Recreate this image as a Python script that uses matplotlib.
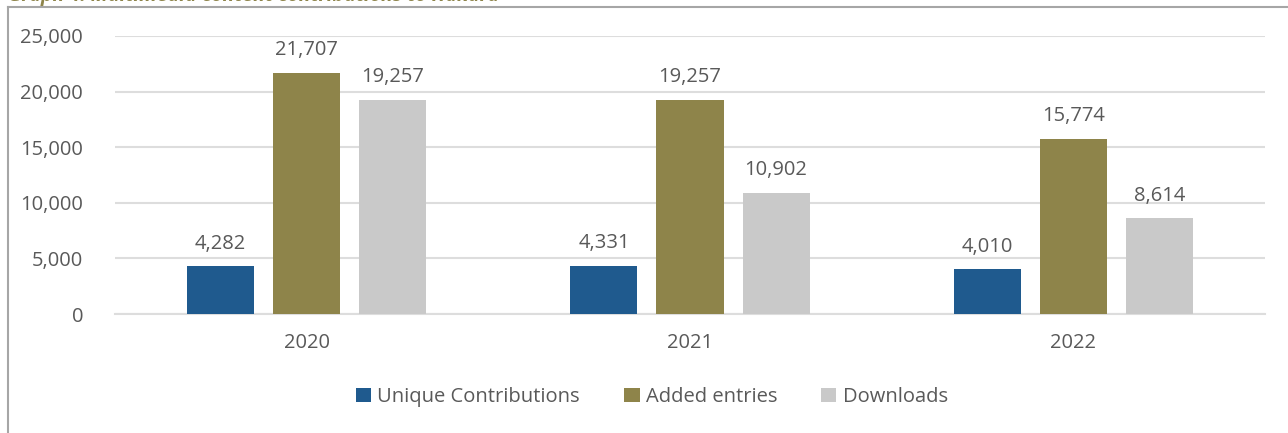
import matplotlib.pyplot as plt
import numpy as np

years = ['2020', '2021', '2022']
unique_contrib = [4282, 4331, 4010]
added_entries = [21707, 19257, 15774]
downloads = [19257, 10902, 8614]

series_names = ['Unique Contributions', 'Added entries', 'Downloads']
colors = ['#1F5A8E', '#8E844A', '#C9C9C9']
yticks = [0, 5000, 10000, 15000, 20000, 25000]

plt.rcParams['font.family'] = ['Open Sans', 'DejaVu Sans']
text_color = '#595959'
fs = 14.5

fig = plt.figure(figsize=(12.88, 4.33), dpi=100)
ax = fig.add_axes([115 / 1288, 1 - 314 / 433, 1150 / 1288, 278 / 433])

x = np.arange(len(years))
width = 0.175
step = 0.2245
for i, (vals, name, c) in enumerate(zip([unique_contrib, added_entries, downloads], series_names, colors)):
    pos = x + (i - 1) * step
    bars = ax.bar(pos, vals, width, color=c, label=name, zorder=3)
    for b, v in zip(bars, vals):
        ax.annotate(f'{v:,}', (b.get_x() + b.get_width() / 2, v),
                    xytext=(0, 9), textcoords='offset points',
                    ha='center', va='bottom', fontsize=fs, color=text_color)

ax.set_xlim(-0.5, 2.5)
ax.set_ylim(0, 25000)
ax.set_yticks(yticks)
ax.set_yticklabels([f'{t:,}' for t in yticks])
ax.set_xticks(x)
ax.set_xticklabels(years)
ax.yaxis.grid(True, color='#DDDDDD', linewidth=1.5, zorder=0)
ax.set_axisbelow(True)
for s in ['top', 'right', 'left']:
    ax.spines[s].set_visible(False)
ax.spines['bottom'].set_color('#DDDDDD')
ax.spines['bottom'].set_linewidth(1.5)
ax.tick_params(axis='both', length=0, labelsize=fs, colors=text_color)
ax.tick_params(axis='y', pad=23)
ax.tick_params(axis='x', pad=14)

leg = fig.legend(loc='center', bbox_to_anchor=(652 / 1288, 1 - 397 / 433), ncol=3,
                 frameon=False, fontsize=fs, handlelength=0.75, handleheight=0.75,
                 handletextpad=0.3, columnspacing=2.2)
for t in leg.get_texts():
    t.set_color(text_color)

# outer frame (only top and left visible in crop)
fig.add_artist(plt.Line2D([8 / 1288, 8 / 1288], [0, 1 - 7 / 433], transform=fig.transFigure,
                          color='#A6A6A6', linewidth=1.5))
fig.add_artist(plt.Line2D([8 / 1288, 1], [1 - 7 / 433, 1 - 7 / 433], transform=fig.transFigure,
                          color='#A6A6A6', linewidth=1.5))

fig.text(8 / 1288, 1 - 6 / 433, 'Graph 4: Multimedia content contributions to Hakara',
         fontsize=14, fontweight='bold', fontstyle='italic', color='#8E844A',
         ha='left', va='bottom')

fig.savefig('out.png', dpi=100)
